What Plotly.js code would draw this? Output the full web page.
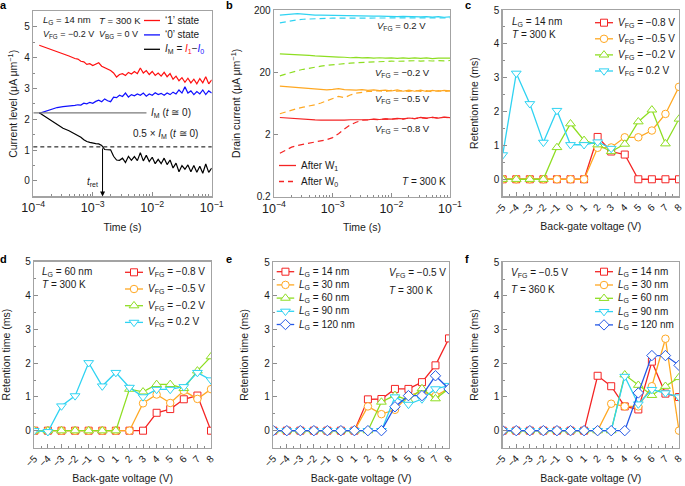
<!DOCTYPE html>
<html><head><meta charset="utf-8">
<script src="https://cdn.plot.ly/plotly-3.0.1.min.js"></script>
<style>html,body{margin:0;padding:0;background:#fff}#chart{width:685px;height:486px}</style>
</head><body><div id="chart"></div>
<script>
// ---------- Panel a: current levels vs time ----------
const timeA = [1.259e-4,1.585e-4,1.995e-4,2.512e-4,3.162e-4,3.981e-4,5.012e-4,5.623e-4,6.310e-4,7.079e-4,7.943e-4,8.913e-4,1.000e-3,1.122e-3,1.259e-3,1.413e-3,1.585e-3,1.778e-3,1.995e-3,2.239e-3,2.512e-3,2.818e-3,3.162e-3,3.548e-3,3.981e-3,4.467e-3,5.012e-3,5.623e-3,6.310e-3,7.079e-3,7.943e-3,8.913e-3,1.000e-2,1.122e-2,1.259e-2,1.413e-2,1.585e-2,1.778e-2,1.995e-2,2.239e-2,2.512e-2,2.818e-2,3.162e-2,3.548e-2,3.981e-2,4.467e-2,5.012e-2,5.623e-2,6.310e-2,7.079e-2,7.943e-2,8.913e-2,1.000e-1];
const state1A = [4.40,4.33,4.27,4.21,4.12,4.05,3.97,3.95,3.88,3.86,3.78,3.80,3.74,3.79,3.83,3.72,3.68,3.62,3.58,3.50,3.37,3.45,3.48,3.42,3.52,3.47,3.55,3.48,3.66,3.50,3.58,3.45,3.55,3.42,3.50,3.40,3.52,3.38,3.48,3.30,3.40,3.25,3.35,3.20,3.33,3.18,3.30,3.15,3.32,3.18,3.38,3.15,3.28];
const state0A = [2.19,2.25,2.32,2.38,2.41,2.42,2.45,2.47,2.46,2.52,2.50,2.55,2.52,2.58,2.62,2.57,2.66,2.60,2.57,2.72,2.70,2.78,2.74,2.85,2.72,2.80,2.76,2.82,2.78,2.85,2.75,2.82,2.78,2.86,2.80,2.84,2.78,2.85,2.80,2.88,2.82,2.95,2.85,3.05,2.85,2.92,2.80,2.90,2.82,2.95,2.80,2.92,2.85];
const memA = [2.21,2.08,1.95,1.83,1.71,1.63,1.52,1.48,1.42,1.34,1.28,1.25,1.22,1.21,1.20,1.15,1.02,1.02,1.01,0.80,0.68,0.67,0.74,0.60,0.80,0.67,0.79,0.66,0.92,0.65,0.83,0.63,0.77,0.56,0.70,0.56,0.74,0.53,0.68,0.42,0.58,0.30,0.50,0.38,0.52,0.30,0.50,0.28,0.48,0.25,0.55,0.28,0.42];
const imZero = 2.21;      // I_M (t ~ 0)
const tRet = 1.46e-3;     // retention time, s

// ---------- Panel b: drain current vs time ----------
const timeB = [1.259e-4,1.585e-4,1.995e-4,2.512e-4,3.162e-4,3.981e-4,5.012e-4,6.310e-4,7.943e-4,1.0e-3,1.259e-3,1.585e-3,1.995e-3,2.512e-3,3.162e-3,3.981e-3,5.012e-3,6.310e-3,7.943e-3,1.0e-2,1.259e-2,1.585e-2,1.995e-2,2.512e-2,3.162e-2,3.981e-2,5.012e-2,6.310e-2,7.943e-2,0.1];
const w1Fg02  = [165,168,173,175,172,168,166,165,164,163,162,162,161,160,161,160,159,160,158,159,157,158,156,157,155,157,154,156,153,155];
const w0Fg02  = [124,130,135,139,142,144,145,146,147,148,148,149,149,150,149,150,150,149,150,151,149,150,151,150,149,151,150,149,151,150];
const w1FgM02 = [39.5,39.2,38.8,38.3,37.8,37.2,36.6,36.0,35.6,35.3,35.1,34.8,34.2,34.6,34.0,34.4,33.8,34.2,33.6,34.1,33.5,34.0,33.4,33.9,33.3,34.0,33.2,33.8,33.3,33.7];
const w0FgM02 = [17.5,18.8,20.0,21.2,22.3,23.3,24.2,25.0,25.8,26.5,27.0,27.6,28.0,28.4,28.8,29.1,29.4,29.6,29.9,30.1,30.0,30.4,30.1,30.6,30.2,30.7,30.3,30.8,30.4,30.9];
const w1FgM05 = [12.0,11.8,11.6,11.3,11.1,10.9,10.7,10.5,10.4,10.6,10.9,10.5,10.4,10.3,10.5,10.2,10.4,10.1,10.3,10.0,10.4,9.9,10.3,9.9,10.3,9.8,10.2,9.9,10.2,10.0];
const w0FgM05 = [4.3,4.6,4.95,5.25,5.5,5.7,6.0,6.4,6.9,7.6,8.2,7.8,8.6,9.2,9.6,9.8,9.9,10.1,9.8,10.2,9.9,10.1,9.8,10.2,9.8,10.1,9.7,10.1,9.8,10.0];
const w1FgM08 = [3.75,3.68,3.62,3.55,3.50,3.45,3.42,3.40,3.38,3.38,3.42,3.40,3.45,3.43,3.48,3.45,3.52,3.48,3.56,3.52,3.62,3.55,3.68,3.60,3.75,3.65,3.78,3.66,3.80,3.72];
const w0FgM08 = [1.0,1.12,1.25,1.33,1.39,1.45,1.52,1.58,1.65,1.78,2.05,2.45,2.85,3.15,3.38,3.42,3.50,3.46,3.55,3.50,3.60,3.54,3.66,3.58,3.72,3.62,3.75,3.64,3.78,3.70];

// ---------- Panels c-f: retention time vs back-gate voltage ----------
const vbg = [-5,-4,-3,-2,-1,0,1,2,3,4,5,6,7,8];
// c: LG = 14 nm, T = 300 K
const cFgM08 = [0,0,0,0,0,0,0,1.25,0.82,0.73,0,0,0,0];
const cFgM05 = [0,0,0,0,0,0,0,0.93,0.94,1.24,1.24,1.44,1.93,2.73];
const cFgM02 = [0,0,0,0,0.94,1.64,1.15,1.02,0.82,1.04,1.70,2.05,1.05,1.78];
const cFg02  = [0.72,3.13,2.23,1.09,2.03,1.02,1.02,1.10,0.91,null,null,null,null,null];
// d: LG = 60 nm, T = 300 K
const dFgM08 = [0,0,0,0,0,0,0,0,0,0.53,0.64,0.93,1.04,0];
const dFgM05 = [0,0,0,0,0,0,0,0,0.81,1.07,0.82,1.18,0.94,1.23];
const dFgM02 = [0,0,0,0,0,0,0,1.23,1.15,1.37,1.37,1.25,1.77,2.19];
const dFg02  = [0,-0.03,0.73,1.03,2.01,1.32,1.72,1.28,1.00,1.22,1.22,1.30,1.72,1.50];
// e: VFG = -0.5 V, T = 300 K
const eLg14  = [0,0,0,0,0,0,0,0.93,0.94,1.24,1.24,1.44,1.94,2.74];
const eLg30  = [0,0,0,0,0,0,0,0.72,0.49,0.62,1.04,1.16,1.03,1.26];
const eLg60  = [0,0,0,0,0,0,0,0,0.85,1.05,0.90,1.25,0.95,1.25];
const eLg90  = [0,0,0,0,0,0,0,0,0,1.00,0.78,0.94,1.24,1.34];
const eLg120 = [0,0,0,0,0,0,0,0,0,0.71,1.04,1.04,1.63,1.24];
// f: VFG = -0.5 V, T = 360 K
const fLg14  = [0,0,0,0,0,0,0,1.63,1.32,0.72,0.63,2.05,1.10,1.00];
const fLg30  = [0,0,0,0,0,0,0,0,0.80,0.72,0.72,1.32,2.73,0];
const fLg60  = [0,0,0,0,0,0,0,0,0,1.66,1.35,1.05,1.32,1.58];
const fLg90  = [0,0,0,0,0,0,0,0,0,1.61,0.79,1.22,1.12,1.00];
const fLg120 = [0,0,0,0,0,0,0,0,0,0,1.12,2.23,2.23,1.94];

const vfgLabels = ['<i>V</i><sub>FG</sub> = −0.8 V','<i>V</i><sub>FG</sub> = −0.5 V','<i>V</i><sub>FG</sub> = −0.2 V','<i>V</i><sub>FG</sub> = 0.2 V'];
const lgLabels = ['<i>L</i><sub>G</sub> = 14 nm','<i>L</i><sub>G</sub> = 30 nm','<i>L</i><sub>G</sub> = 60 nm','<i>L</i><sub>G</sub> = 90 nm','<i>L</i><sub>G</sub> = 120 nm'];

// ---------- styling ----------
const W = 685, H = 486;
const FONT = 'Liberation Sans, Arial, Helvetica, sans-serif';
const PX = x => x / W, PY = y => 1 - y / H;
const RED = '#f42424', ORANGE = '#ffa822', GREEN = '#8ede22', CYAN = '#2fd3f2', BLUE = '#2458e6';
const vfgColors = [RED, ORANGE, GREEN, CYAN];
const vfgSymbols = ['square','circle','triangle-up','triangle-down'];
const lgColors = [RED, ORANGE, GREEN, CYAN, BLUE];
const lgSymbols = ['square','circle','triangle-up','triangle-down','diamond'];
const symSize = {square:7, circle:7.5, 'triangle-up':8.5, 'triangle-down':8.5, diamond:8};

const traces = [];
function line(x, y, color, xa, ya, dash, width) {
  traces.push({x, y, xaxis:xa, yaxis:ya, type:'scatter', mode:'lines', showlegend:false,
    line:{color, width: width || 1.2, dash: dash || 'solid'}, hoverinfo:'skip'});
}
function markerLine(y, color, sym, xa, ya) {
  traces.push({x: vbg, y, xaxis:xa, yaxis:ya, type:'scatter', mode:'lines+markers', showlegend:false,
    line:{color, width:1.3}, marker:{symbol:sym, size:symSize[sym], color:'#ffffff', line:{color, width:1}},
    hoverinfo:'skip'});
}

// a
line(timeA, state1A, '#ff1010', 'x', 'y');
line(timeA, state0A, '#1010ff', 'x', 'y');
line(timeA, memA, '#000000', 'x', 'y');
// b
const DASH = '6px,4px';
[[w1FgM08,w0FgM08,RED],[w1FgM05,w0FgM05,ORANGE],[w1FgM02,w0FgM02,GREEN],[w1Fg02,w0Fg02,CYAN]].forEach(s => {
  line(timeB, s[1], s[2], 'x2', 'y2', DASH, 1.2);
  line(timeB, s[0], s[2], 'x2', 'y2', 'solid', 1.2);
});
// c, d
[cFgM08,cFgM05,cFgM02,cFg02].forEach((s,i) => markerLine(s, vfgColors[i], vfgSymbols[i], 'x3', 'y3'));
[dFgM08,dFgM05,dFgM02,dFg02].forEach((s,i) => markerLine(s, vfgColors[i], vfgSymbols[i], 'x4', 'y4'));
// e, f
[eLg14,eLg30,eLg60,eLg90,eLg120].forEach((s,i) => markerLine(s, lgColors[i], lgSymbols[i], 'x5', 'y5'));
[fLg14,fLg30,fLg60,fLg90,fLg120].forEach((s,i) => markerLine(s, lgColors[i], lgSymbols[i], 'x6', 'y6'));

// ---------- axes ----------
function ax(extra, titleText, standoff) {
  return Object.assign({
    showline:true, mirror:true, linecolor:'#a3a3a3', linewidth:1.4,
    ticks:'inside', ticklen:4, tickwidth:1, tickcolor:'#8c8c8c',
    showgrid:false, zeroline:false,
    tickfont:{size:10, color:'#1a1a1a', family:FONT},
    title:{text:titleText, font:{size:10.5, color:'#1a1a1a', family:FONT}, standoff:standoff}
  }, extra);
}
const dom = (a, b) => [PX(a), PX(b)];
const domY = (top, bottom) => [PY(bottom), PY(top)];
const logX = (d, anchor) => ax({type:'log', domain:d, anchor, range:[-4,-1], dtick:1, exponentformat:'power', showexponent:'all',
  minor:{ticks:'inside', ticklen:2, tickcolor:'#8c8c8c', dtick:'D1'}}, 'Time (s)', 9);
const vbgX = (d, anchor) => ax({domain:d, anchor, range:[-5,8], dtick:1, tick0:0, tickangle:-45,
  minor:{ticks:'inside', ticklen:2, tickcolor:'#8c8c8c', dtick:0.5}}, 'Back-gate voltage (V)', 6);
const retY = (d, anchor) => ax({domain:d, anchor, range:[-0.5,5], dtick:1, tick0:0,
  minor:{ticks:'inside', ticklen:2, tickcolor:'#8c8c8c', dtick:0.5}}, 'Retention time (ms)', 13);

const layout = {
  width:W, height:H, margin:{l:0,r:0,t:0,b:0}, paper_bgcolor:'#fff', plot_bgcolor:'#fff',
  font:{family:FONT, size:10, color:'#1a1a1a'}, showlegend:false,
  xaxis: logX(dom(33.3,211.7), 'y'),
  yaxis: ax({domain:domY(11.3,196.4), anchor:'x', range:[-0.5,5.5], dtick:1, tick0:0,
    minor:{ticks:'inside', ticklen:2, tickcolor:'#8c8c8c', dtick:0.5}}, 'Current level (μA μm<sup>−1</sup>)', 4),
  xaxis2: logX(dom(274,450), 'y2'),
  yaxis2: ax({domain:domY(10,196.7), anchor:'x2', type:'log', range:[Math.log10(0.2), Math.log10(200)],
    tickmode:'array', tickvals:[0.2,2,20,200], ticktext:['0.2','2','20','200']}, 'Drain current (μA μm<sup>−1</sup>)', 11),
  xaxis3: vbgX(dom(502.7,679), 'y3'),
  yaxis3: retY(domY(10,196.2), 'x3'),
  xaxis4: vbgX(dom(34.3,211), 'y4'),
  yaxis4: retY(domY(261.7,447.6), 'x4'),
  xaxis5: vbgX(dom(273.3,449), 'y5'),
  yaxis5: retY(domY(262.3,447.5), 'x5'),
  xaxis6: vbgX(dom(502.7,679), 'y6'),
  yaxis6: retY(domY(262.3,447.5), 'x6'),
  shapes: [], annotations: []
};

// reference lines in a
layout.shapes.push({type:'line', xref:'x', yref:'y', x0:1e-4, x1:8e-3, y0:imZero, y1:imZero, line:{color:'#7a7a7a', width:1.2}});
layout.shapes.push({type:'line', xref:'x domain', yref:'y', x0:0, x1:1, y0:imZero*0.5, y1:imZero*0.5, line:{color:'#000', width:1, dash:'4px,3px'}});
layout.annotations.push({xref:'x', yref:'y', x:Math.log10(tRet), y:-0.5, ax:Math.log10(tRet), ay:imZero*0.5,
  axref:'x', ayref:'y', text:'', showarrow:true, arrowhead:2, arrowsize:1, arrowwidth:1, arrowcolor:'#000', standoff:0});

// ---------- text helpers ----------
function txt(text, x, y, opts, size) {
  layout.annotations.push(Object.assign({xref:'paper', yref:'paper', x:PX(x), y:PY(y), text, showarrow:false,
    xanchor:'left', yanchor:'middle', font:{family:FONT, size:size || 10, color:'#1a1a1a'}}, opts || {}));
}
function markerShape(sym, cx, cy, color) {
  const r = symSize[sym] / 2;
  const base = {xref:'paper', yref:'paper', line:{color, width:1}, fillcolor:'#fff'};
  if (sym === 'square') return Object.assign({type:'rect', x0:PX(cx-r), x1:PX(cx+r), y0:PY(cy+r), y1:PY(cy-r)}, base);
  if (sym === 'circle') return Object.assign({type:'circle', x0:PX(cx-r), x1:PX(cx+r), y0:PY(cy+r), y1:PY(cy-r)}, base);
  let pts;
  const rt = r * 2 / Math.sqrt(3), r2 = r / 2, rd = r * 1.3;
  if (sym === 'triangle-up') pts = [[cx-rt,cy+r2],[cx+rt,cy+r2],[cx,cy-r]];
  else if (sym === 'triangle-down') pts = [[cx-rt,cy-r2],[cx+rt,cy-r2],[cx,cy+r]];
  else pts = [[cx,cy-rd],[cx+rd,cy],[cx,cy+rd],[cx-rd,cy]];
  const path = 'M' + pts.map(p => PX(p[0]) + ',' + PY(p[1])).join('L') + 'Z';
  return Object.assign({type:'path', path}, base);
}
function legend(entries, x0, y0, dy, len) {
  entries.forEach((e, i) => {
    const y = y0 + i * dy;
    layout.shapes.push({type:'line', xref:'paper', yref:'paper', x0:PX(x0), x1:PX(x0+len), y0:PY(y), y1:PY(y),
      line:{color:e.color, width:1.3, dash:e.dash || 'solid'}});
    if (e.symbol) layout.shapes.push(markerShape(e.symbol, x0 + len/2, y, e.color));
    txt(e.name, x0 + len + 3, y);
  });
}

// panel letters
[['a',4,5],['b',229,5],['c',468,5],['d',4,259],['e',229,259],['f',467,259]].forEach(p =>
  txt('<b>' + p[0] + '</b>', p[1], p[2], {xanchor:'center', font:{family:FONT, size:11, color:'#000'}}));

// a texts
txt('<i>L</i><sub>G</sub> = 14 nm', 40.5, 20, null, 9.5);
txt('<i>T</i> = 300 K', 96.5, 20, null, 9.5);
txt('<i>V</i><sub>FG</sub> = −0.2 V', 40.5, 34.5, null, 9);
txt('<i>V</i><sub>BG</sub> = 0 V', 96.5, 34.5, null, 9);
legend([
  {name:'‘1’ state', color:'#ff1010'},
  {name:'‘0’ state', color:'#1010ff'},
  {name:'<i>I</i><sub>M</sub> = <span style="color:#ff1010"><i>I</i><sub>1</sub></span>−<span style="color:#1010ff"><i>I</i><sub>0</sub></span>', color:'#000'}
], 144, 20.5, 14.4, 16);
txt('<i>I</i><sub>M</sub> (<i>t</i> ≅ 0)', 149, 112.5);
txt('0.5 × <i>I</i><sub>M</sub> (<i>t</i> ≅ 0)', 130.5, 134);
txt('<i>t</i><sub>ret</sub>', 100, 182, {xanchor:'right'});

// b texts
txt('<i>V</i><sub>FG</sub> = 0.2 V', 375, 25.5, null, 9.5);
txt('<i>V</i><sub>FG</sub> = −0.2 V', 373, 73, null, 9.5);
txt('<i>V</i><sub>FG</sub> = −0.5 V', 373, 99.5, null, 9.5);
txt('<i>V</i><sub>FG</sub> = −0.8 V', 373, 128.5, null, 9.5);
legend([
  {name:'After W<sub>1</sub>', color:RED},
  {name:'After W<sub>0</sub>', color:RED, dash:'5px,4px'}
], 279, 165.5, 16, 17);
txt('<i>T</i> = 300 K', 400, 182);

// c texts
txt('<i>L</i><sub>G</sub> = 14 nm', 510, 22.5);
txt('<i>T</i> = 300 K', 510, 34.5);
legend(vfgLabels.map((n,i) => ({name:n, color:vfgColors[i], symbol:vfgSymbols[i]})), 595, 22.7, 16.1, 18);

// d texts
txt('<i>L</i><sub>G</sub> = 60 nm', 40, 271.5);
txt('<i>T</i> = 300 K', 40, 284.5);
legend(vfgLabels.map((n,i) => ({name:n, color:vfgColors[i], symbol:vfgSymbols[i]})), 125, 272.3, 16.7, 18);

// e texts
legend(lgLabels.map((n,i) => ({name:n, color:lgColors[i], symbol:lgSymbols[i]})), 276.7, 271.7, 13.2, 17.5);
txt('<i>V</i><sub>FG</sub> = −0.5 V', 387, 273);
txt('<i>T</i> = 300 K', 387, 290);

// f texts
txt('<i>V</i><sub>FG</sub> = −0.5 V', 508.5, 272.5);
txt('<i>T</i> = 360 K', 508.5, 289.5);
legend(lgLabels.map((n,i) => ({name:n, color:lgColors[i], symbol:lgSymbols[i]})), 595, 271.7, 13.3, 18);

Plotly.newPlot('chart', traces, layout, {staticPlot:true, displayModeBar:false});
</script>
</body></html>
